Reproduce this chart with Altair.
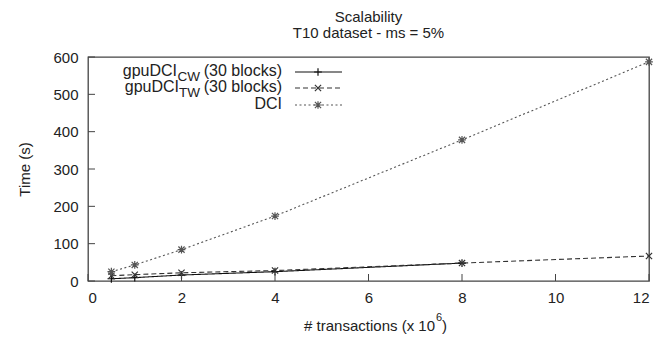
import altair as alt
import pandas as pd

# ---- data ----
x_vals = [0.5, 1, 2, 4, 8, 12]
dci = [25, 43, 84, 174, 378, 587]
tw = [14, 17, 22, 28, 48, 67]
cw = [6, 9, 16, 25, 48]
series_names = ["gpuDCI_CW", "gpuDCI_TW", "DCI"]
x_ticks = [0, 2, 4, 6, 8, 10, 12]
y_ticks = [0, 100, 200, 300, 400, 500, 600]

rows = []
for name, vals in zip(series_names, [cw, tw, dci]):
    for xv, yv in zip(x_vals, vals):
        rows.append({"series": name, "x": xv, "y": yv})
df = pd.DataFrame(rows)

W, H = 561, 224
FONT = "Liberation Sans"
TXT = "#222222"

PLUS = "M-1,0L1,0M0,-1L0,1"
CROSS = "M-0.8,-0.8L0.8,0.8M-0.8,0.8L0.8,-0.8"
STAR = PLUS + CROSS

colors = ["#111111", "#333333", "#555555"]
dashes = [[1, 0], [5, 3], [2, 2.5]]
shapes = [PLUS, CROSS, STAR]

xs = alt.Scale(domain=[0, 12], nice=False, zero=False)
ys = alt.Scale(domain=[0, 600], nice=False)
color_scale = alt.Scale(domain=series_names, range=colors)
dash_scale = alt.Scale(domain=series_names, range=dashes)
shape_scale = alt.Scale(domain=series_names, range=shapes)

xaxis = alt.Axis(values=x_ticks, title=None, ticks=False, domain=False, grid=False,
                 labelFontSize=15, labelPadding=9, labelFont=FONT, labelColor=TXT,
                 labelOverlap=False)
yaxis = alt.Axis(values=y_ticks, title="Time (s)", ticks=False, domain=False, grid=False,
                 labelFontSize=15, labelPadding=10, labelFont=FONT, labelColor=TXT,
                 labelOverlap=False,
                 titleFontSize=15, titleFont=FONT, titleFontWeight="normal",
                 titleColor=TXT, titlePadding=20)

base = alt.Chart(df)
lines = base.mark_line(strokeWidth=1.1).encode(
    x=alt.X("x:Q", scale=xs, axis=xaxis),
    y=alt.Y("y:Q", scale=ys, axis=yaxis),
    color=alt.Color("series:N", scale=color_scale, legend=None),
    strokeDash=alt.StrokeDash("series:N", scale=dash_scale, legend=None),
    detail="series:N",
)
points = base.mark_point(filled=False, size=60, strokeWidth=1.2, opacity=1).encode(
    x=alt.X("x:Q", scale=xs, axis=xaxis),
    y=alt.Y("y:Q", scale=ys, axis=yaxis),
    color=alt.Color("series:N", scale=color_scale, legend=None),
    shape=alt.Shape("series:N", scale=shape_scale, legend=None),
)

xtick_layer = alt.Chart(pd.DataFrame({"x": x_ticks})).mark_rule(color="#444444", strokeWidth=1).encode(
    x=alt.X("x:Q", scale=xs, axis=xaxis), y=alt.value(H), y2=alt.value(H - 7)
)
ytick_layer = alt.Chart(pd.DataFrame({"y": y_ticks})).mark_rule(color="#444444", strokeWidth=1).encode(
    y=alt.Y("y:Q", scale=ys, axis=yaxis), x=alt.value(0), x2=alt.value(7)
)

one = pd.DataFrame({"a": [0]})


def txt(text, px, py, size=15.5, align="right", baseline="middle"):
    return alt.Chart(one).mark_text(text=text, fontSize=size, font=FONT, color=TXT,
                                    align=align, baseline=baseline).encode(
        x=alt.value(px), y=alt.value(py))


# legend (page px -> plot px: x-88, y-57)
OX, OY = 88, 57
legend_layers = []
row_y = [71, 87, 104]
subs = ["CW", "TW", None]
for i, name in enumerate(series_names):
    py = row_y[i] - OY
    if subs[i]:
        legend_layers.append(txt("(30 blocks)", 282 - OX, py, size=16))
        legend_layers.append(txt(subs[i], 200 - OX, py + 6, size=13.5))
        sub_w = 23 if subs[i] == "CW" else 21
        legend_layers.append(txt("gpuDCI", 200 - sub_w - OX, py, size=16))
    else:
        legend_layers.append(txt("DCI", 282 - OX, py, size=16))
    legend_layers.append(
        alt.Chart(one).mark_rule(color=colors[i], strokeDash=dashes[i], strokeWidth=1.1).encode(
            x=alt.value(295 - OX), x2=alt.value(342 - OX), y=alt.value(row_y[i] + 1 - OY)))
    legend_layers.append(
        alt.Chart(one).mark_point(shape=shapes[i], filled=False, size=60, strokeWidth=1.2,
                                  color=colors[i], opacity=1).encode(
            x=alt.value(318 - OX), y=alt.value(row_y[i] + 1 - OY)))

# x-axis title with superscript
xt = [
    txt("# transactions (x 10", 435 - OX, 326 - OY, size=15),
    txt("6", 436 - OX, 318 - OY, size=11, align="left"),
    txt(")", 442 - OX, 326 - OY, size=15, align="left"),
]

chart = alt.layer(
    lines, points, xtick_layer, ytick_layer, *legend_layers, *xt
).properties(
    width=W, height=H,
    autosize=alt.AutoSizeParams(type="none"),
    padding={"left": 80, "top": 49, "right": 5, "bottom": 55},
    title=alt.TitleParams(["Scalability", "T10 dataset - ms = 5%"], fontSize=15, font=FONT,
                          fontWeight="normal", color=TXT, anchor="middle", offset=9,
                          lineHeight=16),
    background="white",
).configure_view(stroke="#444444", strokeWidth=1.3)

chart.save("out.html", embed_options={"renderer": "svg", "actions": False})
